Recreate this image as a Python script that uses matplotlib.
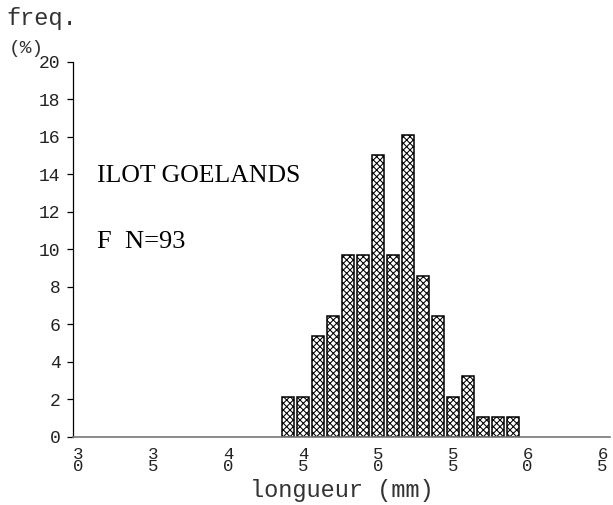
#!/usr/bin/env python3
"""
Length-frequency histogram, ILOT GOELANDS, females (N=93).
"""

import matplotlib
matplotlib.use("Agg")
import matplotlib.pyplot as plt

# length classes (mm) and frequencies (%)
lengths = [44, 45, 46, 47, 48, 49, 50, 51, 52, 53, 54, 55, 56, 57, 58, 59]
freq_pct = [2.15, 2.15, 5.38, 6.45, 9.68, 9.68, 15.05, 9.68,
            16.13, 8.60, 6.45, 2.15, 3.23, 1.08, 1.08, 1.08]

x_ticks = [30, 35, 40, 45, 50, 55, 60, 65]
y_ticks = [0, 2, 4, 6, 8, 10, 12, 14, 16, 18, 20]

site_label = "ILOT GOELANDS"
sample_label = "F  N=93"

MONO = "Liberation Mono"
SERIF = "Liberation Serif"


def stacked(n):
    # tick labels are printed one digit above the other
    return "\n".join(str(n))


def make_chart():
    plt.rcParams['hatch.linewidth'] = 0.75
    fig = plt.figure(figsize=(6.13, 5.05), dpi=100)
    ax = fig.add_axes([0.119, 0.1347, 0.876, 0.7426])

    ax.bar(lengths, freq_pct, width=0.8, color='white', edgecolor='black',
           linewidth=1.1, hatch='xxxxx', zorder=2)

    ax.set_xlim(29.65, 65.5)
    ax.set_ylim(0, 20)

    ax.set_yticks(y_ticks)
    ax.set_yticklabels([str(v) for v in y_ticks], fontfamily=MONO,
                       fontsize=13, color='#222222')
    ax.tick_params(axis='y', direction='out', length=4, width=0.9, pad=5)

    ax.set_xticks(x_ticks)
    ax.set_xticklabels([stacked(v) for v in x_ticks], fontfamily=MONO,
                       fontsize=12.5, linespacing=0.8, color='#222222')
    ax.tick_params(axis='x', length=0, pad=7)

    for side in ['top', 'right']:
        ax.spines[side].set_visible(False)
    ax.spines['left'].set_linewidth(0.9)
    ax.spines['bottom'].set_color('#777777')
    ax.spines['bottom'].set_linewidth(1.2)

    ax.set_xlabel("longueur (mm)", fontfamily=MONO, fontsize=17,
                  va='center', color='#333333')
    ax.xaxis.set_label_coords(0.5, -(491 - 437) / 375)

    fig.text(0.010, 1 - 25 / 505, "freq.", fontfamily=MONO, fontsize=17,
             color='#333333')
    fig.text(0.014, 1 - 53 / 505, "(%)", fontfamily=MONO, fontsize=14,
             color='#333333')

    fig.text(97 / 613, 1 - 176 / 505, site_label, fontfamily=SERIF,
             fontsize=18.5, va='center')
    fig.text(97 / 613, 1 - 242 / 505, sample_label, fontfamily=SERIF,
             fontsize=19, va='center')
    return fig


def main():
    fig = make_chart()
    fig.savefig("out.png", dpi=100)


if __name__ == "__main__":
    main()
